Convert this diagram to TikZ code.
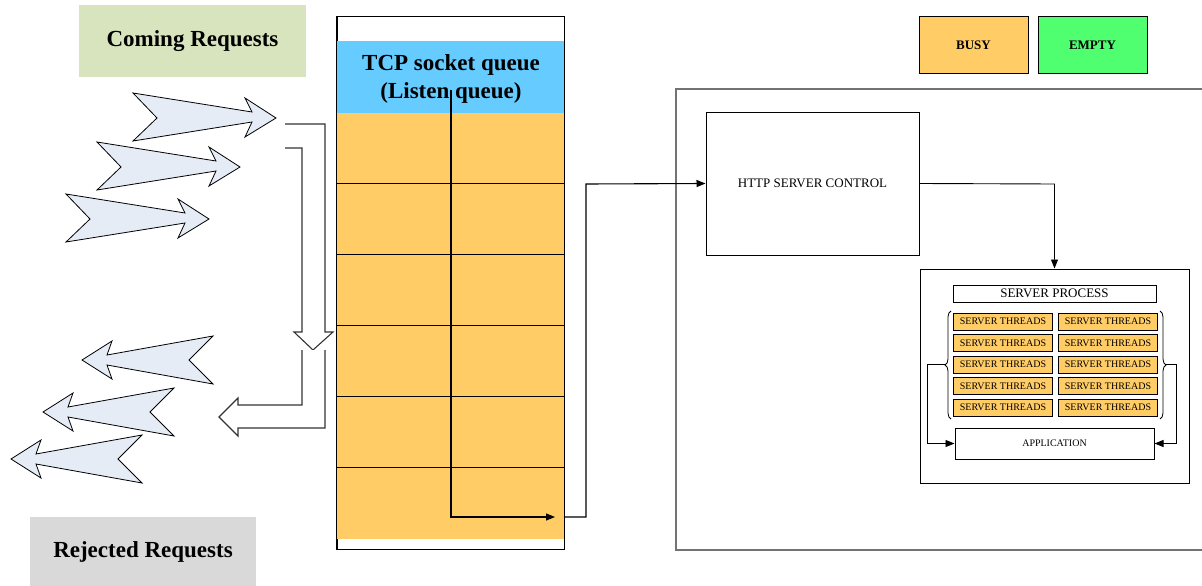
\documentclass[tikz,border=0pt]{standalone}
\usepackage{fontspec}
\setmainfont{Liberation Serif}
\usetikzlibrary{arrows.meta,decorations.pathreplacing}
\definecolor{qorange}{HTML}{FFCC66}
\definecolor{qblue}{HTML}{66CCFF}
\definecolor{qgreen}{HTML}{4FFF6F}
\definecolor{comebg}{HTML}{D7E4BD}
\definecolor{rejbg}{HTML}{D9D9D9}
\definecolor{fatfill}{HTML}{E5ECF6}
\begin{document}
\begin{tikzpicture}[x=1pt,y=-1pt,
  box/.style={draw, rectangle, inner sep=0pt, line width=1pt},
  plain/.style={rectangle, inner sep=0pt},
  cell/.style={rectangle, inner sep=0pt, fill=qorange, minimum height=71pt},
  thr/.style={box, fill=qorange, minimum width=99pt, minimum height=17pt, font=\fontsize{10}{12}\selectfont},
  conn/.style={line width=1.1pt, -{Triangle[length=9pt,width=7pt]}},
  hollow/.style={draw=black!80, line width=1.1pt, fill=white},
  fat/.style={draw=black, line width=0.8pt, fill=fatfill},
  bigtext/.style={font=\fontsize{23}{28}\selectfont\bfseries},
  rarrow/.pic={\draw[fat] (-143,-25) -- (-24,-6) -- (-31,-20) -- (0,0) -- (-31,19) -- (-24,4) -- (-143,23) -- (-119,0) -- cycle;},
  larrow/.pic={\draw[fat] (131,-24) -- (25,-5) -- (30,-19) -- (0,0) -- (30,19) -- (25,5) -- (131,24) -- (107,0) -- cycle;}
]
\useasboundingbox (0,0) rectangle (1202,586);

% labels
\node[plain, fill=comebg, minimum width=227pt, minimum height=72pt, bigtext] (coming) at (192.5,41) {\raisebox{-2pt}{Coming Requests}};
\node[plain, fill=rejbg, minimum width=226pt, minimum height=70pt, bigtext] (rejected) at (143,552) {\raisebox{-2pt}{Rejected Requests}};

% fat arrows
\pic at (276,118) {rarrow};
\pic at (240,167) {rarrow};
\pic at (209,219) {rarrow};
\pic at (82,360) {larrow};
\pic at (43,412) {larrow};
\pic at (11,459) {larrow};

% hollow bent arrows
\draw[hollow] (285,124) -- (325,124) -- (325,332) -- (333,332) -- (313,350) -- (294,332) -- (302,332) -- (302,148) -- (285,148);
\draw[hollow] (302,350) -- (302,405) -- (238,405) -- (238,398) -- (219,417) -- (238,436) -- (238,428) -- (325,428) -- (325,350);

% TCP queue
\node[box, fill=white, minimum width=227pt, minimum height=532pt] (queue) at (450.5,283) {};
\node[plain, fill=qblue, minimum width=227pt, minimum height=72pt] (tcp) at (450.5,77) {};
\foreach \i in {1,...,6}{
  \node[cell, minimum width=114pt] (l\i) at (394,{113+71*(\i-1)+35.5}) {};
  \node[cell, minimum width=113pt] (r\i) at (507.5,{113+71*(\i-1)+35.5}) {};
}
\foreach \i in {2,...,6}{
  \draw[line width=1pt] (l\i.north west) -- (r\i.north east);
}
\draw[line width=1pt] (queue.north west) rectangle (queue.south east);
\node[bigtext, align=center] (tcptext) at (451,79) {TCP socket queue\\(Listen queue)};

\coordinate (qin) at (451,90);
\coordinate (qout) at (555,517);
\coordinate (qexit) at (564,517);
\draw[conn] (qin) -- (451,517) -- (qout);

% server side
\node[draw=black!55, line width=1.3pt, rectangle, minimum width=540pt, minimum height=461pt] (server) at (946,319.5) {};
\node[box, minimum width=213pt, minimum height=143pt, font=\fontsize{13}{15}\selectfont] (http) at (812.5,183.5) {HTTP SERVER CONTROL};
\draw[conn] (qexit) -- (586,517) -- (586,184) -- (http.west);

\node[box, minimum width=269pt, minimum height=214pt] (sproc) at (1054.5,376) {};
\draw[conn, line width=0.9pt] (http.east) -- (1054.5,184) -- (sproc.north);

\node[box, minimum width=203pt, minimum height=17pt, font=\fontsize{13}{15}\selectfont] (sptitle) at (1054.5,293.5) {SERVER PROCESS};

\foreach \i in {1,...,5}{
  \node[thr] (tl\i) at (1003,{321.5+21.5*(\i-1)}) {SERVER THREADS};
  \node[thr] (tr\i) at (1108,{321.5+21.5*(\i-1)}) {SERVER THREADS};
}

\draw[line width=0.8pt, decorate, decoration={brace, amplitude=6pt}] (951,419) -- (951,311);
\draw[line width=0.8pt, decorate, decoration={brace, amplitude=6pt}] (1160,311) -- (1160,419);
\coordinate (lbtip) at (945,364);
\coordinate (rbtip) at (1166,364);

\node[box, minimum width=199pt, minimum height=31pt, font=\fontsize{10}{12}\selectfont] (app) at (1054.5,443.5) {APPLICATION};
\draw[conn, line width=0.9pt] (lbtip) -- (927,364) -- (927,443.5) -- (app.west);
\draw[conn, line width=0.9pt] (rbtip) -- (1176,364) -- (1176,443.5) -- (app.east);

% legend
\node[box, fill=qorange, minimum width=109pt, minimum height=57pt, font=\fontsize{13}{15}\selectfont\bfseries] (busy) at (973.5,45.5) {BUSY};
\node[box, fill=qgreen, minimum width=109pt, minimum height=57pt, font=\fontsize{13}{15}\selectfont\bfseries] (empty) at (1092.5,45.5) {EMPTY};
\end{tikzpicture}
\end{document}
